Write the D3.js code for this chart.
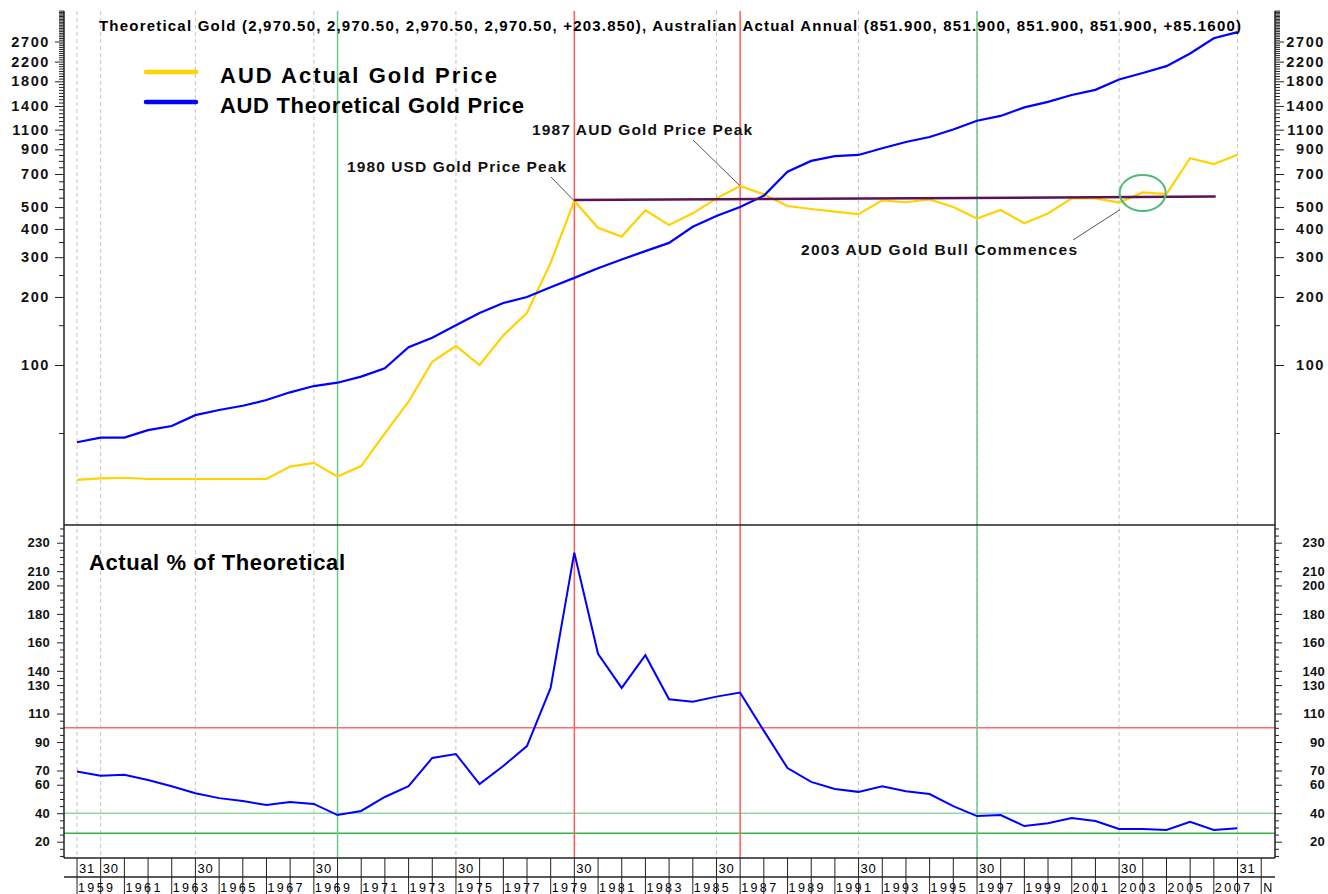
<!DOCTYPE html>
<html>
<head>
<meta charset="utf-8">
<script src="https://cdn.jsdelivr.net/npm/d3@7"></script>
<style>
body { margin: 0; background: #fff; }
svg text { font-family: "Liberation Sans", Arial, sans-serif; }
</style>
</head>
<body>
<svg id="chart" width="1328" height="894"></svg>
<script>
// year-end values
var years = [1958,1959,1960,1961,1962,1963,1964,1965,1966,1967,1968,1969,1970,1971,1972,1973,1974,1975,1976,1977,
	1978,1979,1980,1981,1982,1983,1984,1985,1986,1987,1988,1989,1990,1991,1992,1993,1994,1995,1996,1997,
	1998,1999,2000,2001,2002,2003,2004,2005,2006,2007];
var actualGold = [31.0,31.5,31.7,31.3,31.3,31.3,31.3,31.3,31.3,35.5,36.9,32.1,35.7,49.8,68.8,103.4,121.4,100,135,170,
	283,532,405,370,484,416,469,546,620,569,505,490,477,465,535,525,540,500,445,485,
	424,468,546,546,523,580,570,822,774,851.9];
var theoreticalGold = [45.5,47.7,47.7,51.5,53.7,60,63.2,66,70,75.7,80.7,83.5,88.8,96.7,120,132,150,170,188,200,
	221,243,268,293,319,347,409,456,500,561,717,800,840,850,910,970,1020,1101,1205,1265,
	1380,1460,1565,1650,1835,1960,2100,2390,2790,2970.5];
var pctOfTheoretical = [69.3,66.4,67,63.3,59,54,50.6,48.6,45.7,47.9,46.5,38.7,41.6,51.4,59,78.8,81.6,60.5,73.2,87.2,
	128,223,152,128,151,120,118.3,121.9,124.7,98,71.7,62,57,55,59,55.5,53.5,45,38,38.7,
	31,33,36.7,34.5,29,29,28.3,34,28.3,29.4];

var gridYears = [1959,1960,1964,1969,1975,1980,1986,1992,1997,2003,2008];
var gridDayLabels = ["31","30","30","30","30","30","30","30","30","30","31"];
var redYears = [1980, 1987];
var greenYears = [1970, 1997];
var upperLabels = [100,200,300,400,500,700,900,1100,1400,1800,2200,2700];
var lowerLabels = [230,210,200,180,160,140,130,110,90,70,60,40,20];
var pctLineValues = [100, 40, 26];
var pctLineColors = ["#ff6b6b", "#8fd9a8", "#33b54a"];
var trendYears = [1979.99, 2007.08];
var trendValues = [537, 556];

var svg = d3.select("#chart");
var L = 64, R = 1275, TOP = 11, MID = 525, BOT = 858;

function yearDate(y) {
	var whole = Math.floor(y);
	return new Date(whole, 0, 1 + Math.round((y - whole) * 365));
}
function pointDate(y) { return new Date(y, 11, 31); }

var x = d3.scaleTime()
	.domain([new Date(1959, 0, 1), new Date(2008, 0, 1)])
	.range([77, 1237.5]);
var yTop = d3.scaleLog().domain([100, 1000]).range([365, 139]);
var yBot = d3.scaleLinear().domain([230, 20]).range([542.7, 841.7]);

// dashed date grid
svg.append("g").selectAll("line")
	.data(gridYears)
	.enter()
	.append("line")
	.attr("x1", function(d) { return x(yearDate(d)); })
	.attr("x2", function(d) { return x(yearDate(d)); })
	.attr("y1", TOP)
	.attr("y2", BOT)
	.attr("stroke", "#c4c4c4")
	.attr("stroke-dasharray", "4,3");

// lower panel reference levels
svg.append("g").selectAll("line")
	.data(pctLineValues)
	.enter()
	.append("line")
	.attr("x1", L).attr("x2", R)
	.attr("y1", function(d) { return yBot(d); })
	.attr("y2", function(d) { return yBot(d); })
	.attr("stroke", function(d, i) { return pctLineColors[i]; })
	.attr("stroke-width", 1.5);

// vertical markers
svg.append("g").selectAll("line")
	.data(redYears)
	.enter()
	.append("line")
	.attr("x1", function(d) { return x(yearDate(d)); })
	.attr("x2", function(d) { return x(yearDate(d)); })
	.attr("y1", TOP).attr("y2", BOT)
	.attr("stroke", "#ff5c5c")
	.attr("stroke-width", 1.5);
svg.append("g").selectAll("line")
	.data(greenYears)
	.enter()
	.append("line")
	.attr("x1", function(d) { return x(yearDate(d)); })
	.attr("x2", function(d) { return x(yearDate(d)); })
	.attr("y1", TOP).attr("y2", BOT)
	.attr("stroke", "#6cc98c")
	.attr("stroke-width", 1.5);

// series
var lineTop = d3.line()
	.x(function(d, i) { return x(pointDate(years[i])); })
	.y(function(d) { return yTop(d); });
svg.append("path")
	.datum(actualGold)
	.attr("d", lineTop)
	.attr("fill", "none")
	.attr("stroke", "#ffd200")
	.attr("stroke-width", 2.2);
svg.append("path")
	.datum(theoreticalGold)
	.attr("d", lineTop)
	.attr("fill", "none")
	.attr("stroke", "#0000ff")
	.attr("stroke-width", 2.2);

// trend line from the 1980 peak
svg.append("line")
	.attr("x1", x(yearDate(trendYears[0])))
	.attr("x2", x(yearDate(trendYears[1])))
	.attr("y1", yTop(trendValues[0]))
	.attr("y2", yTop(trendValues[1]))
	.attr("stroke", "#5a1258")
	.attr("stroke-width", 2.5);

var linePct = d3.line()
	.x(function(d, i) { return x(pointDate(years[i])); })
	.y(function(d) { return yBot(d); });
svg.append("path")
	.datum(pctOfTheoretical)
	.attr("d", linePct)
	.attr("fill", "none")
	.attr("stroke", "#0000ff")
	.attr("stroke-width", 2);

// annotations with leader lines to the marked points
var i1979 = years.indexOf(1979), i1986 = years.indexOf(1986), i2002 = years.indexOf(2002);
var notes = [
	{text: "1980 USD Gold Price Peak", tx: 347, ty: 172, len: 219, lx: 551, ly: 177,
		px: x(pointDate(1979)), py: yTop(actualGold[i1979])},
	{text: "1987 AUD Gold Price Peak", tx: 532, ty: 135, len: 220, lx: 693, ly: 140,
		px: x(pointDate(1986)), py: yTop(actualGold[i1986])},
	{text: "2003 AUD Gold Bull Commences", tx: 801, ty: 255, len: 276, lx: 1073, ly: 240,
		px: x(pointDate(2002)) + 1, py: yTop(actualGold[i2002]) + 7}
];
svg.append("g").selectAll("line")
	.data(notes)
	.enter()
	.append("line")
	.attr("x1", function(d) { return d.lx; })
	.attr("y1", function(d) { return d.ly; })
	.attr("x2", function(d) { return d.px; })
	.attr("y2", function(d) { return d.py; })
	.attr("stroke", "#555")
	.attr("stroke-width", 1);
svg.append("g").selectAll("text")
	.data(notes)
	.enter()
	.append("text")
	.attr("x", function(d) { return d.tx; })
	.attr("y", function(d) { return d.ty; })
	.attr("textLength", function(d) { return d.len; })
	.attr("lengthAdjust", "spacing")
	.style("font-size", "15.5px")
	.style("font-weight", "bold")
	.attr("fill", "#111")
	.text(function(d) { return d.text; });

svg.append("ellipse")
	.attr("cx", x(pointDate(2003)))
	.attr("cy", yTop(577))
	.attr("rx", 23)
	.attr("ry", 18)
	.attr("fill", "none")
	.attr("stroke", "#4cbb7a")
	.attr("stroke-width", 2);

// title and legend
svg.append("text")
	.attr("x", 99).attr("y", 31)
	.attr("textLength", 1142)
	.attr("lengthAdjust", "spacing")
	.style("font-size", "15px")
	.style("font-weight", "bold")
	.text("Theoretical Gold (2,970.50, 2,970.50, 2,970.50, 2,970.50, +203.850), Australian Actual Annual (851.900, 851.900, 851.900, 851.900, +85.1600)");

var legend = [
	{name: "AUD Actual Gold Price", color: "#ffd200", y: 72, len: 277},
	{name: "AUD Theoretical Gold Price", color: "#0000ff", y: 102, len: 304}
];
var legendItems = svg.append("g").selectAll("g")
	.data(legend)
	.enter()
	.append("g")
	.attr("transform", function(d) { return "translate(0," + d.y + ")"; });
legendItems.append("line")
	.attr("x1", 146).attr("x2", 196)
	.attr("stroke", function(d) { return d.color; })
	.attr("stroke-width", 4.5)
	.attr("stroke-linecap", "round");
legendItems.append("text")
	.attr("x", 220).attr("y", 11)
	.attr("textLength", function(d) { return d.len; })
	.attr("lengthAdjust", "spacing")
	.style("font-size", "22px")
	.style("font-weight", "bold")
	.text(function(d) { return d.name; });

svg.append("text")
	.attr("x", 89).attr("y", 570)
	.attr("textLength", 256)
	.attr("lengthAdjust", "spacing")
	.style("font-size", "22px")
	.style("font-weight", "bold")
	.text("Actual % of Theoretical");

// y axes, minor ticks unlabeled
var upperMinor = d3.range(50, 3750, 50).filter(function(v) { return upperLabels.indexOf(v) < 0; });
var lowerMinor = d3.range(10, 245, 5).filter(function(v) { return lowerLabels.indexOf(v) < 0; });

function styleAxis(g, size, spacing) {
	g.select(".domain").remove();
	g.selectAll("text")
		.style("font-family", "'Liberation Sans', Arial, sans-serif")
		.style("font-size", size)
		.style("font-weight", "bold")
		.style("letter-spacing", spacing)
		.attr("fill", "#111");
	g.selectAll("line").attr("stroke", "#222");
}

function drawYAxes(side, pos) {
	var mk = side == "left" ? d3.axisLeft : d3.axisRight;
	var gs = [];
	gs.push(svg.append("g").attr("transform", "translate(" + pos + ",0)")
		.call(mk(yTop).tickValues(upperMinor).tickSize(5).tickFormat(""))
		.call(styleAxis, "14px", "0px"));
	gs.push(svg.append("g").attr("transform", "translate(" + pos + ",0)")
		.call(mk(yTop).tickValues(upperLabels).tickSize(9).tickPadding(5).tickFormat(d3.format("d")))
		.call(styleAxis, "14.5px", "1.6px"));
	gs.push(svg.append("g").attr("transform", "translate(" + pos + ",0)")
		.call(mk(yBot).tickValues(lowerMinor).tickSize(4).tickFormat(""))
		.call(styleAxis, "13px", "0px"));
	gs.push(svg.append("g").attr("transform", "translate(" + pos + ",0)")
		.call(mk(yBot).tickValues(lowerLabels).tickSize(7).tickPadding(7).tickFormat(d3.format("d")))
		.call(styleAxis, "13px", "0.3px"));
	if (side == "right") {
		// right labels sit right-aligned near the page edge
		gs.forEach(function(g) {
			g.selectAll(".tick text").attr("text-anchor", "end").attr("x", 50);
		});
	}
}
drawYAxes("left", L);
drawYAxes("right", R);

// frame
svg.append("line").attr("x1", L).attr("x2", L).attr("y1", TOP).attr("y2", BOT).attr("stroke", "#222").attr("stroke-width", 1.5);
svg.append("line").attr("x1", R).attr("x2", R).attr("y1", TOP).attr("y2", BOT).attr("stroke", "#222").attr("stroke-width", 1.5);
svg.append("line").attr("x1", L).attr("x2", R).attr("y1", MID).attr("y2", MID).attr("stroke", "#222").attr("stroke-width", 1.5);
svg.append("line").attr("x1", L).attr("x2", R).attr("y1", BOT).attr("y2", BOT).attr("stroke", "#222").attr("stroke-width", 1.5);
svg.append("line").attr("x1", L).attr("x2", R).attr("y1", 877).attr("y2", 877).attr("stroke", "#222").attr("stroke-width", 1.5);

// date axis: one box per year, day labels above, odd years below
var yearBounds = d3.range(1959, 2010);
svg.append("g").selectAll("line")
	.data(yearBounds)
	.enter()
	.append("line")
	.attr("x1", function(d) { return x(yearDate(d)); })
	.attr("x2", function(d) { return x(yearDate(d)); })
	.attr("y1", BOT)
	.attr("y2", 894)
	.attr("stroke", "#222");
svg.append("g").selectAll("text")
	.data(gridYears)
	.enter()
	.append("text")
	.attr("x", function(d) { return x(yearDate(d)) + 2; })
	.attr("y", 873)
	.style("font-size", "13px")
	.style("letter-spacing", "0.8px")
	.text(function(d, i) { return gridDayLabels[i]; });
var yearLabels = d3.range(1959, 2008, 2);
svg.append("g").selectAll("text")
	.data(yearLabels)
	.enter()
	.append("text")
	.attr("x", function(d) { return x(yearDate(d)) + 1; })
	.attr("y", 892)
	.style("font-size", "12.5px")
	.style("letter-spacing", "2.4px")
	.text(function(d) { return d; });
svg.append("text")
	.attr("x", x(yearDate(2009)) + 2)
	.attr("y", 892)
	.style("font-size", "12.5px")
	.text("N");
</script>
</body>
</html>
